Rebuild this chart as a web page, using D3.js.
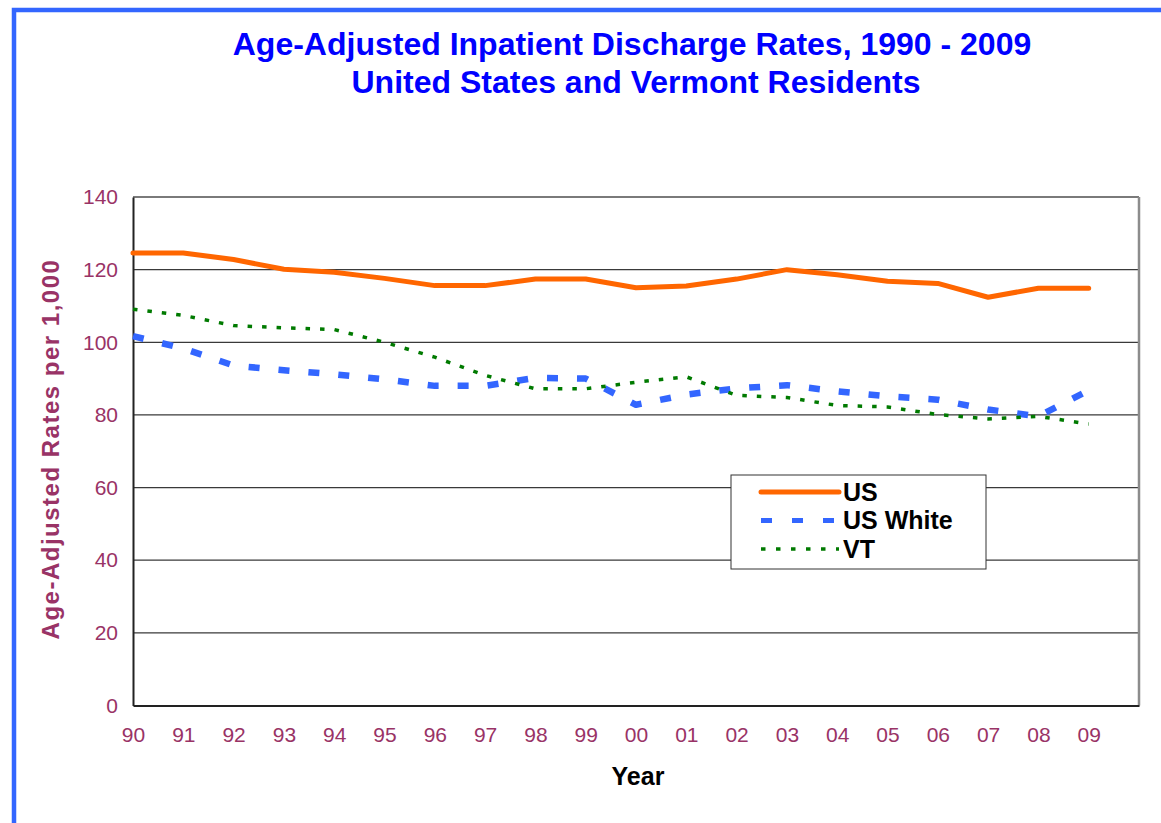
<!DOCTYPE html>
<html>
<head>
<meta charset="utf-8">
<script src="https://cdn.jsdelivr.net/npm/d3@7"></script>
<style>
  body { margin: 0; background: #fff; }
  svg { display: block; font-family: Arial, "Liberation Sans", sans-serif; }
</style>
</head>
<body>
<div class="canvas"></div>
<script>
// chart data
const years = ['90','91','92','93','94','95','96','97','98','99','00','01','02','03','04','05','06','07','08','09'];
const usRates = [124.6, 124.6, 122.8, 120.1, 119.3, 117.6, 115.6, 115.6, 117.4, 117.4, 115.0, 115.5, 117.4, 120.0, 118.6, 116.8, 116.2, 112.4, 114.9, 114.9];
const usWhiteRates = [101.7, 98.3, 93.6, 92.3, 91.2, 89.8, 88.0, 88.0, 90.2, 90.0, 82.8, 85.6, 87.3, 88.2, 86.5, 85.1, 84.2, 81.5, 79.6, 86.8];
const vtRates = [109.1, 107.4, 104.6, 104.0, 103.5, 100.0, 95.9, 90.9, 87.2, 87.2, 89.0, 90.5, 85.4, 84.8, 82.6, 82.2, 80.1, 78.9, 79.6, 77.5];
const yTicks = [0, 20, 40, 60, 80, 100, 120, 140];

const seriesNames = ['US', 'US White', 'VT'];

const dims = { w: 1161, h: 823 };
const plot = { left: 133, right: 1139, top: 197, bottom: 705.5 };
const labelColor = '#993366';

const svg = d3.select('.canvas')
  .append('svg')
    .attr('width', dims.w)
    .attr('height', dims.h);

// outer blue frame (cropped by the window on right/bottom)
svg.append('rect')
  .attr('x', 14).attr('y', 10)
  .attr('width', 1300).attr('height', 1000)
  .attr('fill', 'none')
  .attr('stroke', '#3366ff')
  .attr('stroke-width', 4.5);

// title
const title = svg.append('g')
  .attr('fill', '#0000ff')
  .attr('font-weight', 'bold')
  .attr('font-size', 32)
  .attr('text-anchor', 'middle');
title.append('text').attr('x', 632).attr('y', 55)
  .text('Age-Adjusted Inpatient Discharge Rates, 1990 - 2009');
title.append('text').attr('x', 636).attr('y', 93)
  .text('United States and Vermont Residents');

// scales: points sit on integer positions, axis spans one extra slot
const x = d3.scaleLinear().domain([0, years.length]).range([plot.left, plot.right]);
const y = d3.scaleLinear().domain([0, 140]).range([plot.bottom, plot.top]);

// gridlines
svg.append('g')
  .selectAll('line')
  .data(yTicks.filter(t => t > 0 && t < 140))
  .join('line')
    .attr('x1', plot.left).attr('x2', plot.right)
    .attr('y1', d => y(d)).attr('y2', d => y(d))
    .attr('stroke', '#3a3a3a')
    .attr('stroke-width', 1.3);

// plot frame: top and right gray, left and bottom black
svg.append('line')
  .attr('x1', plot.left).attr('x2', plot.right)
  .attr('y1', plot.top).attr('y2', plot.top)
  .attr('stroke', '#7a7a7a').attr('stroke-width', 2);
svg.append('line')
  .attr('x1', plot.right).attr('x2', plot.right)
  .attr('y1', plot.top).attr('y2', plot.bottom)
  .attr('stroke', '#8c8c8c').attr('stroke-width', 2.5);

// axes
const yAxis = d3.axisLeft(y).tickValues(yTicks).tickSize(0).tickPadding(15);
const yG = svg.append('g')
  .attr('transform', `translate(${plot.left},0)`)
  .call(yAxis);
yG.select('.domain').attr('stroke', '#222').attr('stroke-width', 2);
yG.selectAll('text')
  .attr('fill', labelColor)
  .attr('font-size', 21)
  .attr('font-family', 'Arial, "Liberation Sans", sans-serif');

const xAxis = d3.axisBottom(x)
  .tickValues(d3.range(years.length))
  .tickFormat(i => years[i])
  .tickSize(0).tickPadding(22);
const xG = svg.append('g')
  .attr('transform', `translate(0,${plot.bottom})`)
  .call(xAxis);
xG.select('.domain').attr('stroke', '#222').attr('stroke-width', 2);
xG.selectAll('text')
  .attr('fill', labelColor)
  .attr('font-size', 21)
  .attr('font-family', 'Arial, "Liberation Sans", sans-serif');

// axis titles
svg.append('text')
  .attr('transform', 'translate(59,449) rotate(-90)')
  .attr('text-anchor', 'middle')
  .attr('fill', labelColor)
  .attr('font-weight', 'bold')
  .attr('font-size', 24)
  .attr('letter-spacing', 1.5)
  .text('Age-Adjusted Rates per 1,000');

svg.append('text')
  .attr('x', 638).attr('y', 785)
  .attr('text-anchor', 'middle')
  .attr('font-weight', 'bold')
  .attr('font-size', 25)
  .text('Year');

// series
const styles = [
  { color: '#ff6600', width: 5, dash: null, cap: 'round' },
  { color: '#3366ff', width: 6.5, dash: '11,19', cap: 'butt' },
  { color: '#007a00', width: 3.5, dash: '4.5,10', cap: 'butt' }
];
const seriesData = [usRates, usWhiteRates, vtRates];

const line = d3.line()
  .x((d, i) => x(i))
  .y(d => y(d));

svg.append('g')
  .selectAll('path')
  .data(seriesData)
  .join('path')
    .attr('d', d => line(d))
    .attr('fill', 'none')
    .attr('stroke', (d, i) => styles[i].color)
    .attr('stroke-width', (d, i) => styles[i].width)
    .attr('stroke-dasharray', (d, i) => styles[i].dash)
    .attr('stroke-linecap', (d, i) => styles[i].cap)
    .attr('stroke-linejoin', 'round');

// legend
const legend = svg.append('g').attr('transform', 'translate(731,475)');
legend.append('rect')
  .attr('width', 255).attr('height', 94)
  .attr('fill', '#fff')
  .attr('stroke', '#333')
  .attr('stroke-width', 1);

const items = legend.selectAll('g.item')
  .data(seriesNames)
  .join('g')
    .attr('class', 'item')
    .attr('transform', (d, i) => `translate(0,${17 + i * 28.5})`);

items.append('line')
  .attr('x1', 30).attr('x2', 108)
  .attr('stroke', (d, i) => styles[i].color)
  .attr('stroke-width', (d, i) => i === 0 ? 5 : (i === 1 ? 5 : 3.5))
  .attr('stroke-dasharray', (d, i) => i === 0 ? null : (i === 1 ? '11,20' : '4.5,10.5'))
  .attr('stroke-linecap', (d, i) => styles[i].cap);

items.append('text')
  .attr('x', 112).attr('y', 8.5)
  .attr('font-weight', 'bold')
  .attr('font-size', 25)
  .attr('fill', '#000')
  .text(d => d);
</script>
</body>
</html>
